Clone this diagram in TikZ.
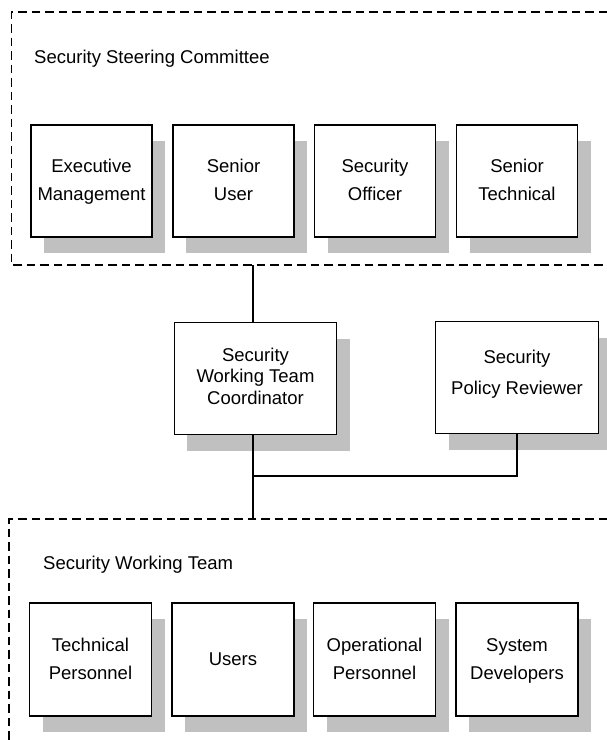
\documentclass[tikz,border=0pt]{standalone}
\usepackage{fontspec}
\setmainfont{Liberation Sans}
\usetikzlibrary{shadows}
\definecolor{shadowgray}{HTML}{C0C0C0}
\tikzset{
  x=1pt, y=-1pt,
  grouprule/.style={draw=black, line width=1.1pt, dash pattern=on 8.5pt off 5pt},
  link/.style={draw=black, line width=1.1pt},
  member/.style={draw=black, line width=1.1pt, fill=white, inner sep=0pt,
    minimum width=121pt, minimum height=112pt, align=center,
    font=\fontsize{18.5}{28}\selectfont,
    drop shadow={shadow xshift=13pt, shadow yshift=-16pt, fill=shadowgray, opacity=1, draw=none}},
  wide/.style={minimum width=162.5pt},
  heading/.style={anchor=base west, inner sep=0pt, font=\fontsize{18.5}{22}\selectfont}
}
\begin{document}
\begin{tikzpicture}
\useasboundingbox (0,0) rectangle (607,740);
\clip (0,0) rectangle (607,740);

% Steering committee group
\draw[grouprule] (607,12) -- (11.5,12) -- (11.5,265) -- (607,265);
\node[heading] (steering) at (34,63.3) {Security Steering Committee};
\node[member] (exec) at (91.5,181) {\strut Executive\\\strut Management};
\node[member] (suser) at (233.5,181) {\strut Senior\\\strut User};
\node[member] (officer) at (375,181) {\strut Security\\\strut Officer};
\node[member] (stech) at (517,181) {\strut Senior\\\strut Technical};

% Coordinator and reviewer
\node[member, wide, font=\fontsize{18.5}{21.3}\selectfont] (coord) at (255.5,378.7)
  {\strut Security\\\strut Working Team\\\strut Coordinator};
\node[member, wide, font=\fontsize{18.5}{30.7}\selectfont] (review) at (517,377.9)
  {\strut Security\\\strut Policy Reviewer\rule[-19pt]{0pt}{1pt}};

% Working team group
\draw[grouprule] (607,519) -- (9,519) -- (9,740);
\node[heading] (working) at (43,569.3) {Security Working Team};
\node[member, minimum width=122pt, minimum height=113pt] (tech) at (90.5,659.5) {\strut Technical\\\strut Personnel};
\node[member, minimum width=122pt, minimum height=113pt] (users) at (233,659.5) {\strut Users};
\node[member, minimum width=122pt, minimum height=113pt] (oper) at (374.5,659.5) {\strut Operational\\\strut Personnel};
\node[member, minimum width=122pt, minimum height=113pt] (dev) at (517,659.5) {\strut System\\\strut Developers};

% Connectors
\coordinate (ctop) at (253,265);
\coordinate (cbot) at (253,519);
\coordinate (junction) at (253,476);
\draw[link] (ctop) -- (ctop |- coord.north);
\draw[link] (coord.south -| ctop) -- (cbot);
\draw[link] (junction) -| (review.south);
\end{tikzpicture}
\end{document}
